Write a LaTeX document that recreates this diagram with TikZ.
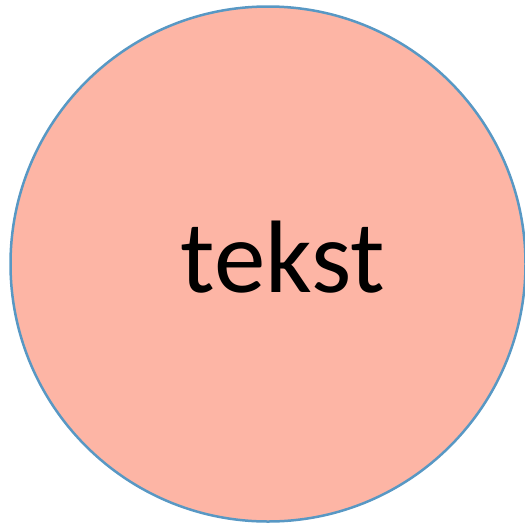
\documentclass[tikz,border=0pt]{standalone}
\usepackage{fontspec}
\setmainfont{Carlito}
\usetikzlibrary{positioning}
\definecolor{zalm}{RGB}{253,181,165}
\definecolor{rand}{RGB}{88,152,196}
\tikzset{
	bol/.style={
		circle,
		draw=rand,
		fill=zalm,
		line width=2.5pt,
		minimum size=515pt,
		inner sep=0pt
	},
	woord/.style={
		font=\fontsize{103}{124}\selectfont,
		inner sep=0pt,
		anchor=base
	}
}

\begin{document}
\begin{tikzpicture}[x=1pt, y=-1pt]
		\useasboundingbox (0,0) rectangle (525,523);
		\node[bol] (B) at (268,264) {};
		\node[woord] (T) at (283,292) {tekst};
\end{tikzpicture}
\end{document}
